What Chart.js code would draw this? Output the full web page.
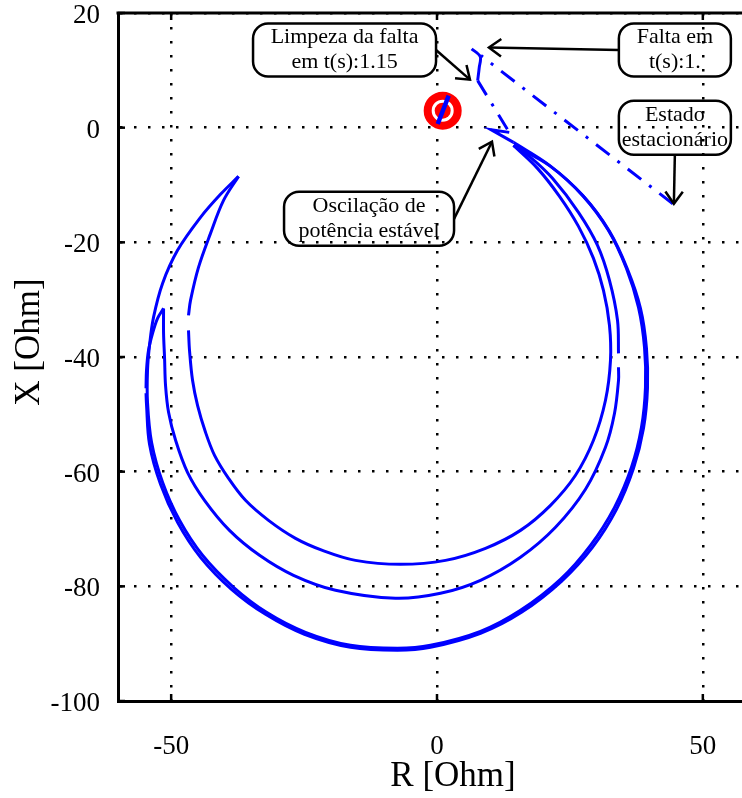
<!DOCTYPE html>
<html>
<head>
<meta charset="utf-8">
<script src="https://cdn.jsdelivr.net/npm/chart.js@4.4.1/dist/chart.umd.min.js"></script>
<style>
  html, body { margin: 0; padding: 0; background: #fff; overflow: hidden; }
  #wrap { width: 770px; height: 798px; }
</style>
</head>
<body>
<div id="wrap"><canvas id="rx" width="770" height="798"></canvas></div>
<script>
// Impedance trajectory seen by the relay in the R-X plane (Ohm)
const xTicks = [-50, 0, 50];
const yTicks = [-100, -80, -60, -40, -20, 0, 20];

// pre-fault operating point
const preFault = [[0.13, 0.65], [2.20, 5.59]];
const steadyMarker = [[1.07, 2.97]];

// jump at fault inception, fault-on trajectory, jump at clearing
const faultJump = [[44.36, -13.28], [8.27, 12.58]];
const faultPath = [[6.52, 13.75], [8.14, 12.40], [7.95, 10.53], [7.65, 8.21]];
const clearingJump = [[7.65, 8.21], [13.59, -0.82]];
const clearingHook = [[13.59, -0.82], [10.15, -0.35], [14.39, -2.56]];

// post-fault power swing: first swing out and back
const swing1Out = [
  [14.39, -2.56], [21.16, -6.58], [27.37, -11.81], [32.26, -17.92], [35.64, -24.55],
  [37.90, -31.35], [39.03, -38.32], [39.21, -45.29], [38.46, -52.26], [36.58, -59.24],
  [33.39, -66.22], [28.87, -72.85], [23.22, -78.78], [15.70, -84.18], [8.18, -87.85],
  [-1.22, -90.29], [-7.43, -90.81], [-16.27, -90.29], [-24.73, -88.02], [-32.07, -84.53],
  [-38.27, -80.17], [-44.10, -74.59], [-48.43, -68.49], [-51.62, -61.86], [-53.69, -54.88],
  [-54.45, -47.90], [-54.45, -42.33], [-54.07, -37.97], [-53.32, -33.09], [-51.62, -27.17],
  [-48.80, -21.40], [-44.48, -15.65], [-40.72, -11.63], [-37.33, -8.49]
];
const swing1Back = [
  [-37.33, -8.49], [-40.15, -12.68], [-42.60, -18.44], [-44.86, -24.37], [-46.36, -30.13],
  [-46.74, -32.74], null, [-46.74, -35.35], [-46.55, -38.84], [-45.98, -44.07],
  [-45.04, -48.42], [-43.54, -53.13], [-41.84, -57.15], [-39.21, -61.16], [-36.02, -65.00],
  [-31.69, -68.49], [-26.61, -71.63], [-21.54, -73.73], [-15.33, -75.47], [-6.86, -76.16],
  [1.60, -75.47], [9.12, -73.37], [15.70, -70.24], [21.35, -65.87], [26.05, -60.63],
  [29.43, -54.53], [31.69, -47.55], [32.63, -40.58], [32.44, -34.48], [31.31, -28.39],
  [29.43, -22.80], [26.61, -17.22], [23.04, -11.98], [18.90, -7.10], [14.39, -3.09]
];

// second swing out and back
const swing2Out = [
  [14.39, -3.09], [21.35, -6.75], [27.55, -11.98], [32.44, -18.09], [35.83, -24.72],
  [38.27, -31.52], [39.40, -38.49], [39.59, -45.46], [38.84, -52.43], [36.96, -59.42],
  [33.76, -66.57], [29.24, -73.20], [23.41, -79.12], [15.89, -84.53], [8.18, -88.20],
  [-1.22, -90.64], [-7.43, -91.16], [-16.27, -90.64], [-24.92, -88.37], [-32.25, -84.88],
  [-38.65, -80.52], [-44.48, -74.94], [-48.80, -68.84], [-52.00, -62.21], [-54.07, -55.23],
  [-54.64, -48.25], [-54.73, -46.33], null, [-54.73, -45.46], [-54.64, -42.33],
  [-54.26, -38.84], [-53.50, -35.88], [-52.56, -33.26], [-51.43, -31.52]
];
const swing2Back = [
  [-51.43, -31.52], [-51.43, -35.88], [-51.24, -40.23], [-51.06, -44.94], [-50.49, -49.64],
  [-49.17, -54.53], [-46.93, -60.12], [-43.73, -65.00], [-39.03, -70.24], [-33.38, -74.59],
  [-26.99, -78.08], [-19.09, -80.69], [-7.81, -82.09], [0.66, -81.22], [8.18, -78.95],
  [15.70, -74.94], [22.29, -69.71], [27.93, -63.08], [31.69, -55.75], [33.39, -49.82],
  [34.14, -44.07], [34.14, -41.80], null, [34.14, -39.36], [33.95, -33.60],
  [32.44, -26.64], [30.19, -20.53], [26.61, -14.77], [21.72, -8.84], [17.59, -5.18],
  [14.39, -3.09]
];

// callouts: anchor (box centre) and arrow tip in R-X coordinates
const callouts = [
  { text: ['Limpeza da falta', 'em t(s):1.15'], at: [-17.39, 13.54], w: 183, h: 53, side: 'right', tip: [6.20, 8.38] },
  { text: ['Falta em', 't(s):1.'], at: [44.74, 13.54], w: 112, h: 53, side: 'left', tip: [9.77, 13.97] },
  { text: ['Estado', 'estacionário'], at: [44.74, 0.0], w: 112, h: 54, side: 'bottom', tip: [44.55, -13.28] },
  { text: ['Oscilação de', 'potência estável'], at: [-12.78, -15.90], w: 170, h: 54, side: 'right', tip: [10.34, -2.45] }
];

const BLUE = '#0000ff';
const SERIF = '"Liberation Serif", "Times New Roman", serif';

const toXY = pts => pts.map(p => p ? { x: p[0], y: p[1] } : { x: null, y: null });
function trace(pts, extra) {
  return Object.assign({
    data: toXY(pts), showLine: true, borderColor: BLUE, backgroundColor: BLUE,
    borderWidth: 3, pointRadius: 0, pointHoverRadius: 0, tension: 0.35,
    spanGaps: false, fill: false, order: 5
  }, extra || {});
}
const DASHDOT = [17, 10, 3, 10];

const datasets = [
  trace(preFault, { borderWidth: 4.5, tension: 0, order: 0 }),
  { data: toXY(steadyMarker), pointRadius: 8, pointBackgroundColor: '#ff0000', pointBorderWidth: 0, order: 1 },
  { data: toXY(steadyMarker), pointRadius: 15, pointBackgroundColor: '#ffffff', pointBorderColor: '#ff0000', pointBorderWidth: 8, order: 2 },
  trace(faultJump, { borderDash: DASHDOT, tension: 0 }),
  trace(faultPath, { tension: 0.3 }),
  trace(clearingJump, { borderDash: DASHDOT, tension: 0 }),
  trace(clearingHook, { tension: 0 }),
  trace(swing1Out),
  trace(swing1Back),
  trace(swing2Out),
  trace(swing2Back)
];

function arrowHead(ctx, x0, y0, x1, y1, len, ang) {
  const a = Math.atan2(y1 - y0, x1 - x0);
  ctx.beginPath();
  ctx.moveTo(x1 - len * Math.cos(a - ang), y1 - len * Math.sin(a - ang));
  ctx.lineTo(x1, y1);
  ctx.lineTo(x1 - len * Math.cos(a + ang), y1 - len * Math.sin(a + ang));
  ctx.stroke();
}
function roundRect(ctx, x, y, w, h, r) {
  ctx.beginPath();
  ctx.moveTo(x + r, y);
  ctx.arcTo(x + w, y, x + w, y + h, r);
  ctx.arcTo(x + w, y + h, x, y + h, r);
  ctx.arcTo(x, y + h, x, y, r);
  ctx.arcTo(x, y, x + w, y, r);
  ctx.closePath();
}

const framePlugin = {
  id: 'frame',
  afterDatasetsDraw(chart) {
    const { ctx, chartArea: ca, scales: { x, y } } = chart;
    ctx.save();
    ctx.strokeStyle = '#000';
    ctx.lineWidth = 3;
    // top edge of the axes box
    ctx.beginPath();
    ctx.moveTo(ca.left - 1.5, ca.top);
    ctx.lineTo(ca.right, ca.top);
    ctx.stroke();
    // inward tick marks
    ctx.lineWidth = 2.5;
    xTicks.forEach(v => {
      const px = x.getPixelForValue(v);
      ctx.beginPath();
      ctx.moveTo(px, ca.bottom); ctx.lineTo(px, ca.bottom - 7);
      ctx.moveTo(px, ca.top); ctx.lineTo(px, ca.top + 7);
      ctx.stroke();
    });
    yTicks.forEach(v => {
      const py = y.getPixelForValue(v);
      ctx.beginPath();
      ctx.moveTo(ca.left, py); ctx.lineTo(ca.left + 7, py);
      ctx.stroke();
    });
    // callout boxes and arrows
    ctx.font = '22px ' + SERIF;
    ctx.textAlign = 'center';
    ctx.textBaseline = 'middle';
    ctx.fillStyle = '#000';
    callouts.forEach(c => {
      const cx = x.getPixelForValue(c.at[0]);
      const cy = y.getPixelForValue(c.at[1]);
      const bx = cx - c.w / 2, by = cy - c.h / 2;
      ctx.lineWidth = 2.5;
      roundRect(ctx, bx, by, c.w, c.h, 15);
      ctx.stroke();
      ctx.fillText(c.text[0], cx, cy - 12.5);
      ctx.fillText(c.text[1], cx, cy + 12.5);
      let sx, sy;
      if (c.side === 'right') { sx = bx + c.w; sy = cy; }
      else if (c.side === 'left') { sx = bx; sy = cy; }
      else { sx = cx; sy = by + c.h; }
      const tx = x.getPixelForValue(c.tip[0]);
      const ty = y.getPixelForValue(c.tip[1]);
      ctx.beginPath();
      ctx.moveTo(sx, sy); ctx.lineTo(tx, ty);
      ctx.stroke();
      arrowHead(ctx, sx, sy, tx, ty, 15, 0.62);
    });
    ctx.restore();
  },
  afterDraw(chart) {
    const { ctx, chartArea: ca } = chart;
    ctx.save();
    ctx.fillStyle = '#000';
    ctx.font = '35px ' + SERIF;
    ctx.textAlign = 'center';
    ctx.textBaseline = 'middle';
    ctx.fillText('R [Ohm]', ca.left + 335, ca.bottom + 76);
    ctx.translate(ca.left - 88, ca.top + 329);
    ctx.rotate(-Math.PI / 2);
    ctx.fillText('X [Ohm]', 0, 0);
    ctx.restore();
  }
};

new Chart(document.getElementById('rx'), {
  type: 'scatter',
  data: { datasets },
  plugins: [framePlugin],
  options: {
    responsive: false,
    animation: false,
    devicePixelRatio: 1,
    layout: { autoPadding: false, padding: { top: 13, right: 14, left: 0, bottom: 0 } },
    plugins: { legend: { display: false }, tooltip: { enabled: false } },
    events: [],
    scales: {
      x: {
        type: 'linear', min: -60, max: 60,
        afterBuildTicks: s => { s.ticks = xTicks.map(v => ({ value: v })); },
        afterFit: s => { s.height = 97; s.paddingLeft = 0; s.paddingRight = 0; },
        grid: { color: '#000', lineWidth: 2.5, drawTicks: false },
        border: { display: true, color: '#000', width: 3, dash: [2.5, 11.5] },
        ticks: { color: '#000', font: { family: SERIF, size: 27 }, padding: 30, maxRotation: 0 }
      },
      y: {
        type: 'linear', min: -100, max: 20,
        afterBuildTicks: s => { s.ticks = yTicks.map(v => ({ value: v })); },
        afterFit: s => { s.width = 118; s.paddingTop = 0; s.paddingBottom = 0; },
        grid: { color: '#000', lineWidth: 2.5, drawTicks: false },
        border: { display: true, color: '#000', width: 3, dash: [2.5, 11.5] },
        ticks: { color: '#000', font: { family: SERIF, size: 27 }, padding: 18, labelOffset: 3 }
      }
    }
  }
});
</script>
</body>
</html>
